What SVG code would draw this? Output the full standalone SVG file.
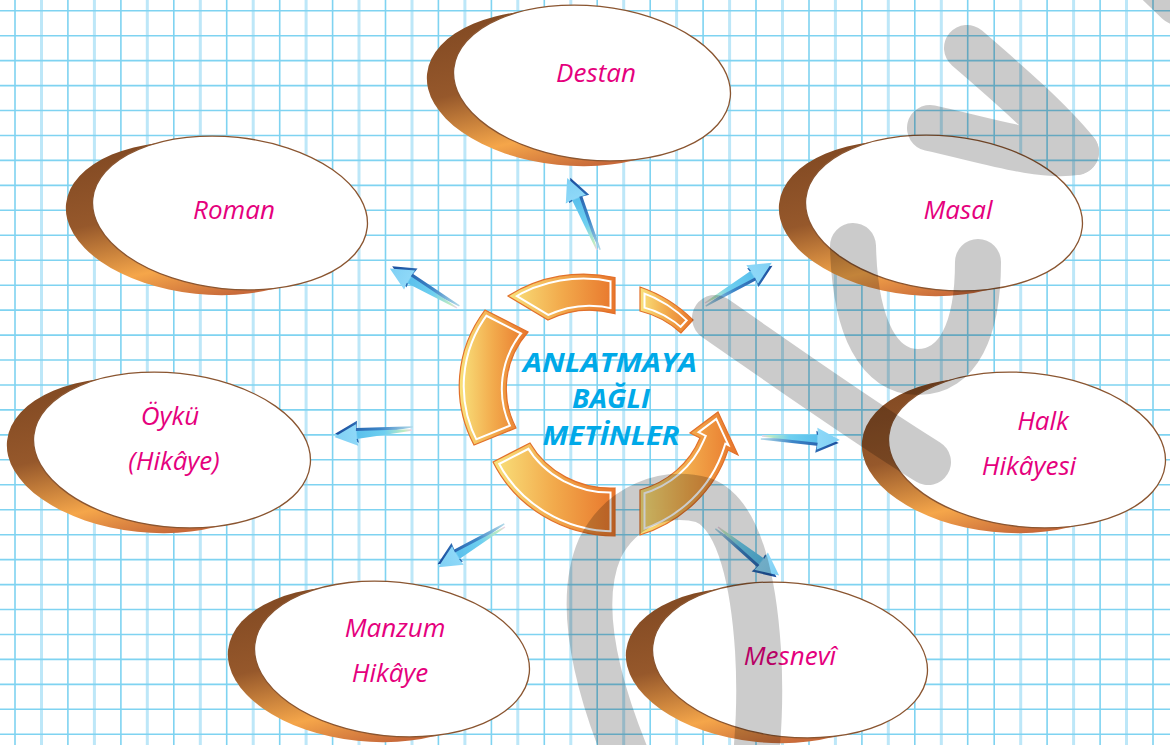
<svg xmlns="http://www.w3.org/2000/svg" xmlns:xlink="http://www.w3.org/1999/xlink" width="1170" height="745" viewBox="0 0 1170 745">
<style>
.grid-r{stroke:#7fd3f1;stroke-width:1.6;fill:none}
.grid-l{stroke:#bde7f8;stroke-width:3;fill:none}
.face{fill:#fff;stroke:#8a5530;stroke-width:1.3}
.back{fill:url(#brown)}
.lbl{font-family:"Open Sans","Liberation Sans",sans-serif;font-style:italic;font-size:26px;fill:#e5007d;text-anchor:middle}
.ctr{font-family:"Open Sans","Liberation Sans",sans-serif;font-style:italic;font-weight:bold;font-size:26px;fill:#00a9e8;text-anchor:middle}
.wm{fill:none;stroke:#000;stroke-linecap:round;stroke-linejoin:round;stroke-width:46}
.seg-out{fill:none;stroke:#e2702a;stroke-width:1.2}
</style>
<defs>
<linearGradient id="brown" x1="0" y1="0" x2="0.6" y2="1">
<stop offset="0" stop-color="#7a4420"/>
<stop offset="0.5" stop-color="#96582b"/>
<stop offset="0.8" stop-color="#f5a64a"/>
<stop offset="1" stop-color="#c86a3a"/>
</linearGradient>
<linearGradient id="ringGrad" x1="0" y1="0" x2="1" y2="0">
<stop offset="0" stop-color="#f9e27c"/>
<stop offset="0.5" stop-color="#f2aa4c"/>
<stop offset="1" stop-color="#e8762c"/>
</linearGradient>
<linearGradient id="arrFace" gradientUnits="userSpaceOnUse" x1="0" y1="0" x2="78" y2="0">
<stop offset="0" stop-color="#f0d0e8"/>
<stop offset="0.1" stop-color="#c0ecc0"/>
<stop offset="0.35" stop-color="#6fd0f0"/>
<stop offset="0.7" stop-color="#5ac0ec"/>
<stop offset="0.72" stop-color="#8ed8f8"/>
<stop offset="1" stop-color="#7fd0f4"/>
</linearGradient>
<linearGradient id="arrDark" gradientUnits="userSpaceOnUse" x1="0" y1="0" x2="78" y2="0">
<stop offset="0" stop-color="#b0d8e8"/>
<stop offset="0.4" stop-color="#3d86c8"/>
<stop offset="1" stop-color="#1a4c9c"/>
</linearGradient>
<g id="arr">
<path d="M-1,2.3 L55,-1 L54,-8 L77,3 L54,14 L55,7 L-1,3.7 Z" fill="url(#arrDark)"/>
<path d="M0,-0.7 L56,-4 L55,-11 L78,0 L55,11 L56,4 L0,0.7 Z" fill="url(#arrFace)"/>
</g>
<path id="s1" d="M508,296 A136 130 0 0 1 615,277.6 L615,313.7 A92 88 0 0 0 548,320 Z"/>
<path id="s2" d="M640,287 A136 130 0 0 1 693,320 L681,333 A92 88 0 0 0 640,311 Z"/>
<path id="s3" d="M485,310 L528,332 A92 88 0 0 0 516,428 L474,445 A136 130 0 0 1 485,310 Z"/>
<path id="s4" d="M493,462 A136 130 0 0 0 615,536 L615,488 A92 88 0 0 1 530,443 Z"/>
<path id="s5" d="M640,535 A136 130 0 0 0 728,450 L738,455 L718,412 L690,433 L700,438 A92 88 0 0 1 640,490 Z"/>
<clipPath id="c1"><use href="#s1"/></clipPath>
<clipPath id="c2"><use href="#s2"/></clipPath>
<clipPath id="c3"><use href="#s3"/></clipPath>
<clipPath id="c4"><use href="#s4"/></clipPath>
<clipPath id="c5"><use href="#s5"/></clipPath>
</defs>
<rect width="1170" height="745" fill="#fff"/>
<g id="grid">
<path class="grid-l" d="M41.5,0V745M94.4,0V745M147.3,0V745M200.3,0V745M253.2,0V745M306.1,0V745M359,0V745M412,0V745M464.9,0V745M517.8,0V745M570.8,0V745M623.7,0V745M676.6,0V745M729.6,0V745M782.5,0V745M835.4,0V745M888.3,0V745M941.3,0V745M1020.7,0V745M1073.6,0V745M1126.5,0V745"/>
<path class="grid-r" d="M15,0V745M67.9,0V745M120.9,0V745M173.8,0V745M226.7,0V745M279.7,0V745M332.6,0V745M385.5,0V745M438.4,0V745M491.4,0V745M544.3,0V745M597.2,0V745M650.2,0V745M703.1,0V745M756,0V745M809,0V745M861.9,0V745M914.8,0V745M967.7,0V745M994.2,0V745M1047.1,0V745M1100.1,0V745M1153,0V745"/>
<path class="grid-r" d="M0,10.7H1170M0,35.7H1170M0,60.6H1170M0,85.6H1170M0,110.5H1170M0,135.5H1170M0,160.4H1170M0,185.4H1170M0,210.3H1170M0,235.3H1170M0,260.2H1170M0,285.2H1170M0,310.1H1170M0,335.1H1170M0,360H1170M0,385H1170M0,409.9H1170M0,434.9H1170M0,459.8H1170M0,484.8H1170M0,509.7H1170M0,534.7H1170M0,559.6H1170M0,584.6H1170M0,609.5H1170M0,634.5H1170M0,659.4H1170M0,684.4H1170M0,709.3H1170M0,734.3H1170"/>
</g>
<g id="node-destan">
<g transform="translate(592,83) rotate(6)"><ellipse class="back" cx="-26" cy="8" rx="139" ry="77"/><ellipse class="face" rx="139" ry="77"/></g>
<text class="lbl" x="596" y="82">Destan</text>
</g>
<g id="node-roman">
<g transform="translate(230,213) rotate(6)"><ellipse class="back" cx="-26" cy="8" rx="138" ry="76"/><ellipse class="face" rx="138" ry="76"/></g>
<text class="lbl" x="234" y="219">Roman</text>
</g>
<g id="node-masal">
<g transform="translate(944,213) rotate(6)"><ellipse class="back" cx="-26" cy="8" rx="139" ry="77"/><ellipse class="face" rx="139" ry="77"/></g>
<text class="lbl" x="958" y="219">Masal</text>
</g>
<g id="node-oyku">
<g transform="translate(172,450) rotate(6)"><ellipse class="back" cx="-26" cy="8" rx="139" ry="77"/><ellipse class="face" rx="139" ry="77"/></g>
<text class="lbl" x="170" y="425">Öykü</text>
<text class="lbl" x="174" y="470">(Hikâye)</text>
</g>
<g id="node-halk">
<g transform="translate(1027,450) rotate(6)"><ellipse class="back" cx="-26" cy="8" rx="139" ry="77"/><ellipse class="face" rx="139" ry="77"/></g>
<text class="lbl" x="1043" y="430">Halk</text>
<text class="lbl" x="1029" y="475">Hikâyesi</text>
</g>
<g id="node-manzum">
<g transform="translate(392,659) rotate(6)"><ellipse class="back" cx="-26" cy="8" rx="138" ry="77"/><ellipse class="face" rx="138" ry="77"/></g>
<text class="lbl" x="395" y="637">Manzum</text>
<text class="lbl" x="390" y="682">Hikâye</text>
</g>
<g id="node-mesnevi">
<g transform="translate(790,660) rotate(6)"><ellipse class="back" cx="-26" cy="8" rx="138" ry="77"/><ellipse class="face" rx="138" ry="77"/></g>
<text class="lbl" x="790" y="665">Mesnevî</text>
</g>
<g id="node-center">
<g clip-path="url(#c1)"><use href="#s1" fill="url(#ringGrad)" stroke="#fff" stroke-width="11"/><use href="#s1" fill="none" stroke="url(#ringGrad)" stroke-width="7"/></g>
<g clip-path="url(#c2)"><use href="#s2" fill="url(#ringGrad)" stroke="#fff" stroke-width="11"/><use href="#s2" fill="none" stroke="url(#ringGrad)" stroke-width="7"/></g>
<g clip-path="url(#c3)"><use href="#s3" fill="url(#ringGrad)" stroke="#fff" stroke-width="11"/><use href="#s3" fill="none" stroke="url(#ringGrad)" stroke-width="7"/></g>
<g clip-path="url(#c4)"><use href="#s4" fill="url(#ringGrad)" stroke="#fff" stroke-width="11"/><use href="#s4" fill="none" stroke="url(#ringGrad)" stroke-width="7"/></g>
<g clip-path="url(#c5)"><use href="#s5" fill="url(#ringGrad)" stroke="#fff" stroke-width="11"/><use href="#s5" fill="none" stroke="url(#ringGrad)" stroke-width="7"/></g>
<use href="#s1" class="seg-out"/><use href="#s2" class="seg-out"/><use href="#s3" class="seg-out"/><use href="#s4" class="seg-out"/><use href="#s5" class="seg-out"/>
<text class="ctr" x="610" y="372" textLength="174" lengthAdjust="spacingAndGlyphs">ANLATMAYA</text>
<text class="ctr" x="611" y="408" textLength="78" lengthAdjust="spacingAndGlyphs">BAĞLI</text>
<text class="ctr" x="611" y="445" textLength="137" lengthAdjust="spacingAndGlyphs">METİNLER</text>
</g>
<g id="connectors">
<use href="#arr" transform="translate(597,250) rotate(-112.5)"/>
<use href="#arr" transform="translate(457,308) rotate(-149.5)"/>
<use href="#arr" transform="translate(705,303) rotate(-31.1)"/>
<use href="#arr" transform="translate(412,430) rotate(174.9)"/>
<use href="#arr" transform="translate(762,436) rotate(2.9)"/>
<use href="#arr" transform="translate(505,527) rotate(148.9)"/>
<use href="#arr" transform="translate(718,527) rotate(38.4)"/>
</g>
<g id="watermark" opacity="0.2">
<path class="wm" d="M967,48 C1010,85 1050,120 1076,152"/>
<path class="wm" d="M930,128 C985,140 1040,158 1076,152"/>
<path class="wm" d="M1150,-25 L1178,2"/>
<path class="wm" d="M715,318 C790,370 860,420 928,462"/>
<path class="wm" d="M853,246 C855,330 880,372 918,372 C958,372 978,330 978,262"/>
<path class="wm" d="M632,770 C598,690 575,605 600,548 C622,505 665,490 703,500 C742,515 754,590 758,650 C761,700 758,735 755,770"/>
</g>
</svg>
